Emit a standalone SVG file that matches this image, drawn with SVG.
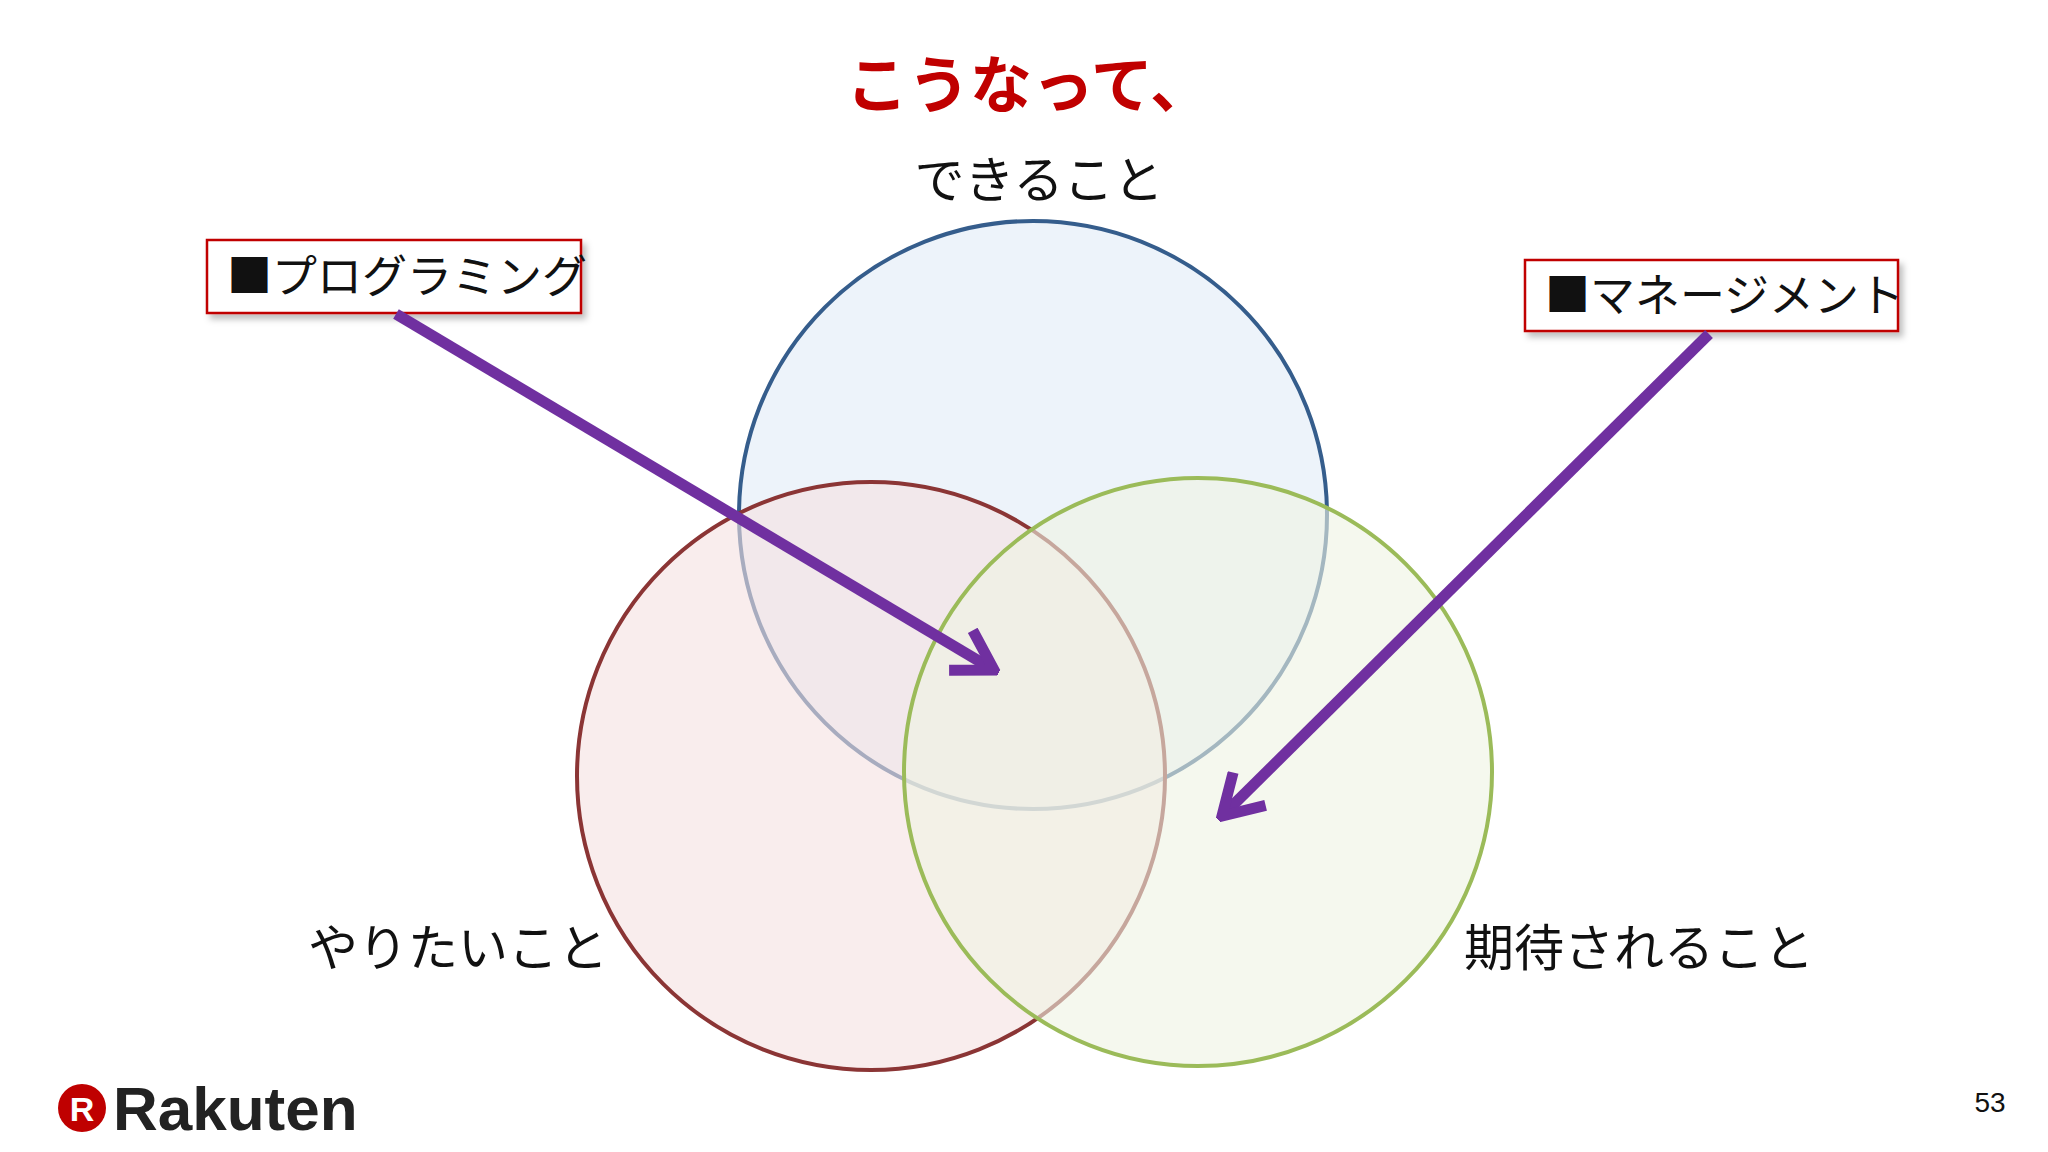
<svg xmlns="http://www.w3.org/2000/svg" width="2048" height="1152" viewBox="0 0 2048 1152">
<style>
.t{font-family:"Noto Sans CJK JP","Liberation Sans",sans-serif;fill:#111}
.box{fill:#fff;stroke:#c00000;stroke-width:2.5}
.arr{stroke:#7030a0;stroke-width:11;fill:none;stroke-linecap:butt}
</style>
<defs>
<marker id="ah" viewBox="0 0 10 10" refX="9" refY="5" markerWidth="5" markerHeight="5" orient="auto" markerUnits="strokeWidth">
<path d="M2,0.8 L9,5 L2,9.2" fill="none" stroke="#7030a0" stroke-width="2"/>
</marker>
<filter id="sh" x="-10%" y="-20%" width="130%" height="160%"><feDropShadow dx="4" dy="5" stdDeviation="3" flood-color="#000" flood-opacity="0.25"/></filter>
</defs>
<rect width="2048" height="1152" fill="#fff"/>
<text class="t" x="1029" y="108" text-anchor="middle" font-size="62" font-weight="bold" style="fill:#c00000">こうなって、</text>
<g id="circles">
<g id="dekiru"><circle cx="1033" cy="515" r="294" fill="#e6eef8" fill-opacity="0.7" stroke="#355d8c" stroke-width="4"/></g>
<g id="yaritai"><circle cx="871" cy="776" r="294" fill="#f5e1e1" fill-opacity="0.6" stroke="#8b3535" stroke-width="4"/></g>
<g id="kitai"><circle cx="1198" cy="772" r="294" fill="#eef4e2" fill-opacity="0.6" stroke="#9bbb59" stroke-width="4"/></g>
</g>
<text class="t" x="1039" y="198" text-anchor="middle" font-size="50">できること</text>
<text class="t" x="458" y="966" text-anchor="middle" font-size="50">やりたいこと</text>
<text class="t" x="1639" y="966" text-anchor="middle" font-size="50">期待されること</text>
<g id="prog"><rect class="box" x="207" y="240" width="374" height="73" filter="url(#sh)"/>
<text class="t" x="227" y="293" font-size="45">■プログラミング</text></g>
<g id="mgmt"><rect class="box" x="1525" y="260" width="373" height="71" filter="url(#sh)"/>
<text class="t" x="1545" y="312" font-size="45">■マネージメント</text></g>
<g id="connectors">
<path class="arr" d="M396,314 L994,670" marker-end="url(#ah)"/>
<path class="arr" d="M1709,334 L1222,816" marker-end="url(#ah)"/>
</g>
<g id="logo">
<circle cx="82" cy="1108" r="24" fill="#bf0000"/>
<text x="82" y="1121" text-anchor="middle" font-family="Liberation Sans,sans-serif" font-weight="bold" font-size="34" fill="#fff">R</text>
<text x="113" y="1130" font-family="Liberation Sans,sans-serif" font-weight="bold" font-size="62" fill="#222">Rakuten</text>
</g>
<text x="1990" y="1112" text-anchor="middle" font-family="Liberation Sans,sans-serif" font-size="28" fill="#111">53</text>
</svg>
